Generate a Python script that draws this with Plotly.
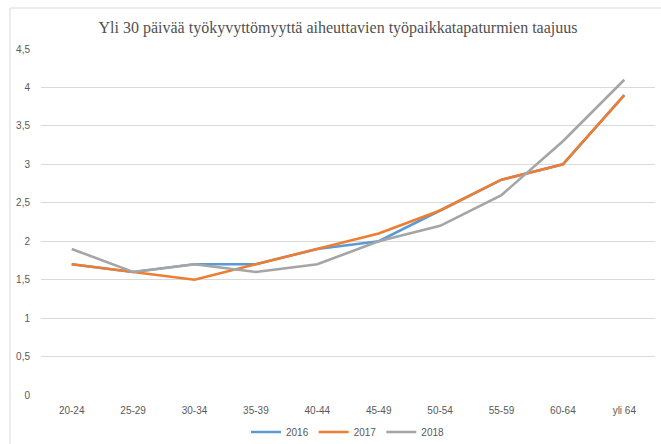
import plotly.graph_objects as go

categories = ["20-24", "25-29", "30-34", "35-39", "40-44", "45-49", "50-54", "55-59", "60-64", "yli 64"]
y2016 = [1.7, 1.6, 1.7, 1.7, 1.9, 2.0, 2.4, 2.8, 3.0, 3.9]
y2017 = [1.7, 1.6, 1.5, 1.7, 1.9, 2.1, 2.4, 2.8, 3.0, 3.9]
y2018 = [1.9, 1.6, 1.7, 1.6, 1.7, 2.0, 2.2, 2.6, 3.3, 4.1]
yticks = [0, 0.5, 1, 1.5, 2, 2.5, 3, 3.5, 4, 4.5]
ytick_text = ["0", "0,5", "1", "1,5", "2", "2,5", "3", "3,5", "4", "4,5"]

W, H = 661, 444
L, R, T, B = 41, 6, 49, 49

fig = go.Figure()
for name, vals, col in [("2016", y2016, "#5B9BD5"), ("2017", y2017, "#ED7D31"), ("2018", y2018, "#A5A5A5")]:
    fig.add_trace(go.Scatter(x=categories, y=vals, name=name, mode="lines",
                             line=dict(color=col, width=2.6)))

pw = W - L - R
ph = H - T - B
def px(x):
    return (x - L) / pw
def py(y):
    return (H - B - y) / ph

fig.update_layout(
    width=W, height=H,
    margin=dict(l=L, r=R, t=T, b=B, autoexpand=False),
    paper_bgcolor="white", plot_bgcolor="white",
    title=dict(text="Yli 30 päivää työkyvyttömyyttä aiheuttavien työpaikkatapaturmien taajuus",
               x=338 / W, xref="container", xanchor="center", y=1 - 27 / H, yref="container", yanchor="middle",
               font=dict(family="Liberation Serif", size=16, color="#505050")),
    xaxis=dict(type="category", range=[-0.5, len(categories) - 0.5], showgrid=False, zeroline=False,
               showline=False, ticks="", ticklabelstandoff=8,
               tickfont=dict(family="Liberation Sans Narrow, Liberation Sans", size=10, color="#595959")),
    yaxis=dict(range=[0, 4.5], tickvals=yticks, ticktext=ytick_text, showgrid=True,
               gridcolor="#D9D9D9", gridwidth=1, zeroline=False, showline=False, ticks="",
               ticklabelstandoff=10,
               tickfont=dict(family="Liberation Sans Narrow, Liberation Sans", size=10, color="#595959")),
    legend=dict(orientation="h", x=0.5, xanchor="center", yref="container", y=1 - 432 / H, yanchor="middle",
                font=dict(family="Liberation Sans Narrow, Liberation Sans", size=10, color="#595959"),
                itemwidth=30, bgcolor="rgba(0,0,0,0)"),
    shapes=[
        dict(type="line", xref="paper", yref="paper", x0=px(10), x1=px(W), y0=py(8), y1=py(8),
             line=dict(color="#D9D9D9", width=1)),
        dict(type="line", xref="paper", yref="paper", x0=px(10), x1=px(10), y0=py(8), y1=py(H),
             line=dict(color="#D9D9D9", width=1)),
    ],
)
fig.write_html("out.html", config={"displayModeBar": False},
               post_script="document.body.style.margin='0';document.body.style.overflow='hidden';")
